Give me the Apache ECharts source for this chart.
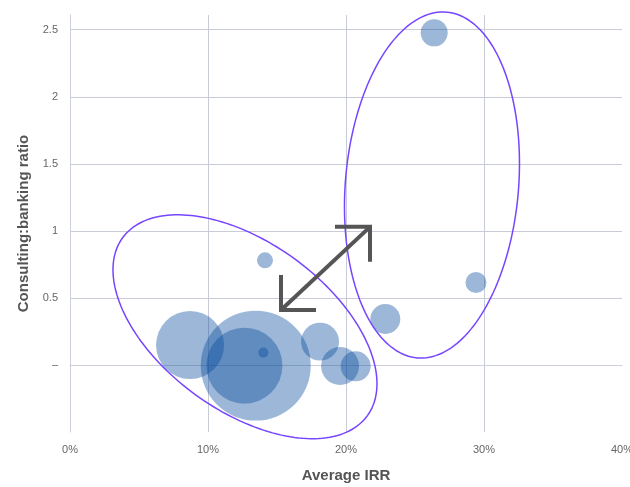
<!DOCTYPE html>
<html>
<head>
<meta charset="utf-8">
<script src="https://cdn.jsdelivr.net/npm/echarts@6/dist/echarts.min.js"></script>
<style>
html,body{margin:0;padding:0;background:#fff;}
#chart{width:630px;height:487px;}
</style>
</head>
<body>
<div id="chart"></div>
<script>
// ---- data ----
var irr = [14.13, 26.39, 29.42, 22.85, 8.70, 13.46, 12.64, 14.01, 18.12, 19.57, 20.70];      // Average IRR (%)
var ratio = [0.78, 2.477, 0.615, 0.343, 0.149, -0.005, -0.005, 0.092, 0.174, -0.008, -0.01]; // Consulting:banking ratio
var weight = [16, 45.6, 27.6, 56, 289, 756, 361, 6.25, 90, 90, 56];                        // bubble weight
var xTicks = [0, 10, 20, 30, 40];
var yTickLabels = {'0': '–', '0.5': '0.5', '1': '1', '1.5': '1.5', '2': '2', '2.5': '2.5'};

// annotation definitions (data coordinates)
var arrowEnds = [[15.29, 0.41], [21.74, 1.03]];
var ellipseCenters = [[12.68, 0.285], [26.23, 1.342]];

var FONT = 'Liberation Sans';
var chart = echarts.init(document.getElementById('chart'), null, {renderer: 'canvas'});

var points = irr.map(function (x, i) { return [x, ratio[i], weight[i]]; });

chart.setOption({
  animation: false,
  backgroundColor: '#ffffff',
  grid: {left: 70, right: 8, top: 15, bottom: 55, containLabel: false, outerBoundsMode: 'none'},
  xAxis: {
    type: 'value', min: xTicks[0], max: xTicks[xTicks.length - 1], interval: 10,
    name: 'Average IRR', nameLocation: 'middle', nameGap: 36,
    nameTextStyle: {fontFamily: FONT, fontSize: 15, fontWeight: 'bold', color: '#555'},
    axisLine: {show: true, lineStyle: {color: '#cdd0da', width: 1}},
    axisTick: {show: false},
    axisLabel: {formatter: '{value}%', margin: 12, fontFamily: FONT, fontSize: 11, color: '#666'},
    splitLine: {show: true, showMinLine: false, showMaxLine: false, lineStyle: {color: '#c8ccd8', width: 1}}
  },
  yAxis: {
    type: 'value', min: -0.5, max: 2.61, interval: 0.5,
    name: 'Consulting:banking ratio', nameLocation: 'middle', nameGap: 38,
    nameTextStyle: {fontFamily: FONT, fontSize: 15, fontWeight: 'bold', color: '#555'},
    axisLine: {show: true, lineStyle: {color: '#cdd0da', width: 1}},
    axisTick: {show: false},
    axisLabel: {
      margin: 12, fontFamily: FONT, fontSize: 11, color: '#666',
      formatter: function (v) {
        var k = String(Math.round(v * 100) / 100);
        return yTickLabels.hasOwnProperty(k) ? yTickLabels[k] : '';
      }
    },
    splitLine: {show: true, showMinLine: false, showMaxLine: false, lineStyle: {color: '#c8ccd8', width: 1}}
  },
  series: [{
    type: 'scatter',
    data: points,
    symbolSize: function (d) { return Math.sqrt(d[2]) * 4; },
    itemStyle: {color: '#084c9e', opacity: 0.4},
    emphasis: {disabled: true}
  }]
});

function toPx(p) { return chart.convertToPixel({gridIndex: 0}, p); }

function ellipsePts(c, a, b, theta) {
  var pts = [], ct = Math.cos(theta), st = Math.sin(theta);
  for (var i = 0; i <= 180; i++) {
    var t = i / 180 * Math.PI * 2;
    var u = a * Math.cos(t), v = b * Math.sin(t);
    pts.push([c[0] + u * ct - v * st, c[1] + u * st + v * ct]);
  }
  return pts;
}

var e1 = toPx(ellipseCenters[0]), e2 = toPx(ellipseCenters[1]);
var A = toPx(arrowEnds[0]), B = toPx(arrowEnds[1]);
var arm = 35;
var ellStyle = {fill: 'none', stroke: '#7646ff', lineWidth: 1.5};
var arrStyle = {fill: 'none', stroke: '#555555', lineWidth: 4, lineJoin: 'miter', lineCap: 'butt'};

chart.setOption({
  graphic: [
    {type: 'polyline', z: 100, silent: true, shape: {points: ellipsePts(e1, 151.3, 84.1, 36 * Math.PI / 180)}, style: ellStyle},
    {type: 'polyline', z: 100, silent: true, shape: {points: ellipsePts(e2, 173.5, 86.6, -85.2 * Math.PI / 180)}, style: ellStyle},
    {type: 'line', z: 101, silent: true, shape: {x1: A[0], y1: A[1], x2: B[0], y2: B[1]}, style: arrStyle},
    {type: 'polyline', z: 101, silent: true, shape: {points: [[A[0], A[1] - arm], [A[0], A[1]], [A[0] + arm, A[1]]]}, style: arrStyle},
    {type: 'polyline', z: 101, silent: true, shape: {points: [[B[0] - arm, B[1]], [B[0], B[1]], [B[0], B[1] + arm]]}, style: arrStyle}
  ]
});
</script>
</body>
</html>
